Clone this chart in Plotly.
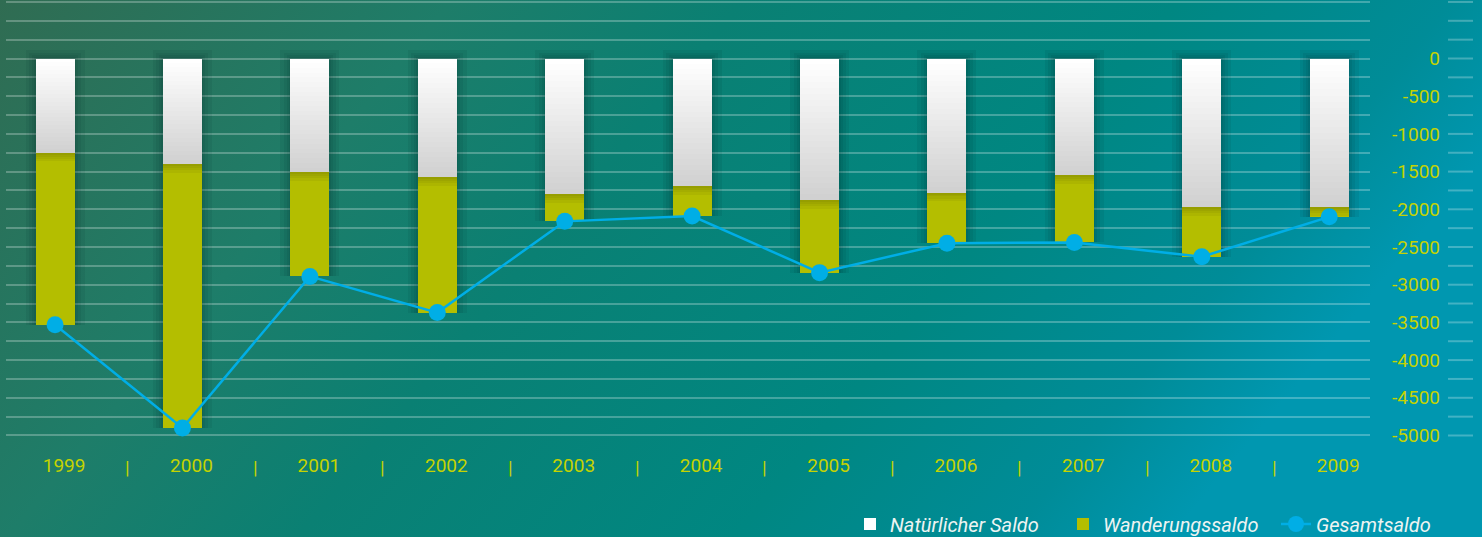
import base64
import plotly.graph_objects as go

# data
years = ["1999", "2000", "2001", "2002", "2003", "2004", "2005", "2006", "2007", "2008", "2009"]
natuerlicher_saldo = [-1250, -1400, -1510, -1570, -1800, -1690, -1880, -1780, -1550, -1970, -1970]
wanderungssaldo = [-2280, -3500, -1380, -1800, -360, -400, -960, -670, -890, -660, -130]
gesamtsaldo = [-3530, -4900, -2890, -3370, -2160, -2090, -2840, -2450, -2440, -2630, -2100]

grid_vals = list(range(750, -5001, -250))
label_vals = [0, -500, -1000, -1500, -2000, -2500, -3000, -3500, -4000, -4500, -5000]
label_text = ["0", "-500", "-1000", "-1500", "-2000", "-2500", "-3000", "-3500", "-4000", "-4500", "-5000"]

W, H = 1482, 537
ML, MR, MT, MB = 6, 0, 0, 85
pw, ph = W - ML - MR, H - MT - MB

yr = [-5219, 776]
xr = [-0.385, 10.32]
bw = 0.306

lime = "#c5d300"
olive = "#b4be00"
blue = "#00aee6"
grid = "rgba(255,255,255,0.26)"

svg = (
    '<svg xmlns="http://www.w3.org/2000/svg" width="1482" height="537" preserveAspectRatio="none">'
    '<defs><linearGradient id="g" x1="0" y1="0" x2="1" y2="0.3">'
    '<stop offset="0" stop-color="#306c52"/><stop offset="0.28" stop-color="#1e7d69"/>'
    '<stop offset="0.46" stop-color="#0a8073"/><stop offset="0.73" stop-color="#008782"/>'
    '<stop offset="0.9" stop-color="#008c98"/><stop offset="1" stop-color="#0097b0"/>'
    '</linearGradient></defs><rect width="1482" height="537" fill="url(#g)"/></svg>'
)
bg_src = "data:image/svg+xml;base64," + base64.b64encode(svg.encode()).decode()

fig = go.Figure()

# soft shadow behind the bars
for extra, lift in [(20, 110), (13, 75), (7, 45), (3, 20)]:
    fig.add_trace(go.Bar(
        x=years, y=[g - lift for g in gesamtsaldo], base=lift,
        width=(39 + extra) / 127.4, marker=dict(color="rgba(0,35,35,0.08)", line_width=0),
        showlegend=False, hoverinfo="skip",
    ))

fig.add_trace(go.Bar(
    x=years, y=natuerlicher_saldo, width=bw, name="Natürlicher Saldo",
    marker=dict(color="#ffffff", line_width=0),
))
# light grey fade of the white bars
n_fade = 24
for k in range(1, n_fade + 1):
    fig.add_trace(go.Bar(
        x=years, y=[v * (1 - k / n_fade) for v in natuerlicher_saldo],
        base=[v * k / n_fade for v in natuerlicher_saldo], width=bw,
        marker=dict(color="rgba(120,128,138,0.016)", line_width=0),
        showlegend=False, hoverinfo="skip",
    ))

fig.add_trace(go.Bar(
    x=years, y=wanderungssaldo, base=natuerlicher_saldo, width=bw, name="Wanderungssaldo",
    marker=dict(color=olive, line_width=0),
))
# shade under the white part
for depth in [25, 50, 80, 115]:
    fig.add_trace(go.Bar(
        x=years, y=[max(-depth, w) for w in wanderungssaldo], base=natuerlicher_saldo, width=bw,
        marker=dict(color="rgba(70,70,0,0.07)", line_width=0),
        showlegend=False, hoverinfo="skip",
    ))

fig.add_trace(go.Scatter(
    x=years, y=gesamtsaldo, mode="lines+markers", name="Gesamtsaldo", yaxis="y2",
    line=dict(color=blue, width=2.5), marker=dict(color=blue, size=17),
))

for i in range(len(years) - 1):
    fig.add_annotation(
        x=i + 0.5, y=-5219, xref="x", yref="y", text="|", showarrow=False,
        xshift=9, yshift=-15, font=dict(family="Roboto", size=19, color=lime),
    )

# short tick strokes right of the labels
for v in grid_vals:
    fig.add_shape(
        type="line", xref="paper", yref="y", x0=(1448 - ML) / pw, x1=(1473 - ML) / pw,
        y0=v, y1=v, line=dict(color=grid, width=2),
    )

fig.update_layout(
    width=W, height=H,
    margin=dict(l=ML, r=MR, t=MT, b=MB, autoexpand=False),
    paper_bgcolor="#00806f", plot_bgcolor="rgba(0,0,0,0)",
    barmode="overlay", bargap=0,
    font=dict(family="Roboto", color=lime),
    images=[dict(
        source=bg_src, xref="paper", yref="paper", x=-ML / pw, y=1 + MT / ph,
        sizex=W / pw, sizey=H / ph, sizing="stretch", xanchor="left", yanchor="top",
        layer="below",
    )],
    xaxis=dict(
        type="category", range=xr, domain=[0, (1370 - ML) / pw],
        showgrid=False, zeroline=False, showline=False, ticks="",
        tickfont=dict(family="Roboto", size=19, color=lime), ticklabelshift=9,
    ),
    yaxis=dict(
        range=yr, tickvals=grid_vals, showticklabels=False, showgrid=True,
        gridcolor=grid, gridwidth=2, zeroline=False, showline=False,
    ),
    yaxis2=dict(
        range=yr, overlaying="y", anchor="free", position=(1448 - ML) / pw, side="left",
        tickvals=label_vals, ticktext=label_text, ticks="",
        showgrid=False, zeroline=False, showline=False, ticklabelstandoff=8,
        tickfont=dict(family="Roboto", size=19, color=lime),
    ),
    legend=dict(
        orientation="h", xref="container", yref="container",
        x=850 / W, xanchor="left", y=1 - 524 / H, yanchor="middle",
        bgcolor="rgba(0,0,0,0)", traceorder="normal", entrywidth=168, itemwidth=30,
        font=dict(family="Roboto", size=20, color="#eef4f2", style="italic"),
    ),
    showlegend=True,
)

fig.write_html("out.html", config={"displayModeBar": False},
               post_script="document.body.style.margin='0';")
